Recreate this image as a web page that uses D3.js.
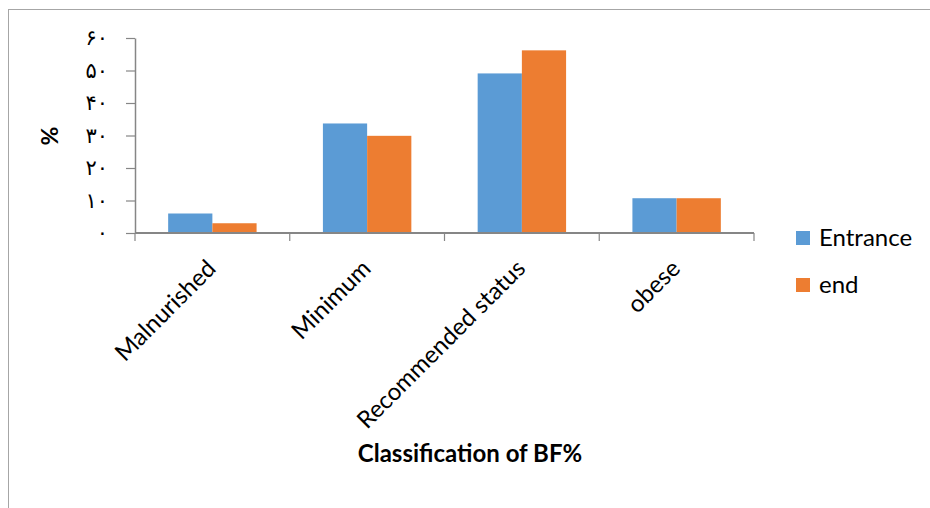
<!DOCTYPE html>
<html>
<head>
<meta charset="utf-8">
<script src="https://cdn.jsdelivr.net/npm/d3@7"></script>
<style>
  body { margin: 0; background: #fff; }
  svg { display: block; }
</style>
</head>
<body>
<div id="chart"></div>
<script>
// data
const categories = ['Malnurished', 'Minimum', 'Recommended status', 'obese']
const series = ['Entrance', 'end']
const entranceValues = [6, 33.7, 49.1, 10.7]
const endValues = [3, 29.9, 56.2, 10.7]
const yTicks = [0, 10, 20, 30, 40, 50, 60]
const colors = ['#5b9bd5', '#ed7d31']

const width = 930
const height = 508
const margin = { top: 38, left: 135, right: 176, bottom: 275 }
const plotBottom = height - margin.bottom // 233
const plotRight = width - margin.right    // 754

const svg = d3.select('#chart')
  .append('svg')
    .attr('width', width)
    .attr('height', height)

// outer frame
svg.append('rect')
  .attr('x', 8.5)
  .attr('y', 9.5)
  .attr('width', 1000)
  .attr('height', 1000)
  .attr('fill', 'none')
  .attr('stroke', '#a6a6a6')
  .attr('stroke-width', 1)

const persian = d => String(d).replace(/\d/g, c => '۰۱۲۳۴۵۶۷۸۹'[c])

const xScale = d3.scaleBand()
  .domain(categories)
  .range([margin.left, plotRight])
  .padding(0)

const xInner = d3.scaleBand()
  .domain(series)
  .range([0, xScale.bandwidth()])
  .paddingInner(0)
  .paddingOuter(0.75)

const yScale = d3.scaleLinear()
  .domain([0, 60])
  .range([plotBottom, margin.top])

// bars
const rows = categories.map((c, i) => ({ cat: c, vals: [entranceValues[i], endValues[i]] }))

const groups = svg.append('g')
  .selectAll('g')
  .data(rows)
  .enter()
  .append('g')
    .attr('transform', d => `translate(${xScale(d.cat)},0)`)

groups.selectAll('rect')
  .data(d => d.vals.map((v, j) => ({ s: series[j], v: v, j: j })))
  .enter()
  .append('rect')
    .attr('x', d => xInner(d.s))
    .attr('y', d => yScale(d.v))
    .attr('width', xInner.bandwidth())
    .attr('height', d => plotBottom - yScale(d.v))
    .attr('fill', d => colors[d.j])

// y axis
const yAxis = svg.append('g')
  .attr('transform', `translate(${margin.left},0)`)
  .call(d3.axisLeft(yScale).tickValues(yTicks).tickSize(9).tickSizeOuter(0).tickPadding(18).tickFormat(persian))

yAxis.select('.domain').attr('stroke', '#868686').attr('stroke-width', 1.5)
yAxis.selectAll('.tick line').attr('stroke', '#868686').attr('stroke-width', 1.2)
yAxis.selectAll('.tick text')
  .attr('font-family', 'DejaVu Sans')
  .attr('font-size', 21)
  .attr('letter-spacing', 3)
  .attr('fill', '#000')

// x axis: ticks on category boundaries
const xAxisG = svg.append('g')
svg.append('line')
  .attr('x1', margin.left)
  .attr('x2', plotRight)
  .attr('y1', plotBottom)
  .attr('y2', plotBottom)
  .attr('stroke', '#868686')
  .attr('stroke-width', 2)

const boundaries = categories.map(c => xScale(c)).concat([plotRight])
xAxisG.selectAll('line')
  .data(boundaries)
  .enter()
  .append('line')
    .attr('x1', d => d)
    .attr('x2', d => d)
    .attr('y1', plotBottom)
    .attr('y2', plotBottom + 8)
    .attr('stroke', '#868686')
    .attr('stroke-width', 1.2)

xAxisG.selectAll('text')
  .data(categories)
  .enter()
  .append('text')
    .attr('transform', d => `translate(${xScale(d) + xScale.bandwidth() / 2 + 5},270) rotate(-45)`)
    .attr('text-anchor', 'end')
    .attr('font-family', 'Lato, sans-serif')
    .attr('font-size', 24)
    .attr('fill', '#000')
    .text(d => d)

// axis titles
svg.append('text')
  .attr('transform', 'translate(58,136) rotate(-90)')
  .attr('text-anchor', 'middle')
  .attr('font-family', 'Lato, sans-serif')
  .attr('font-weight', 'bold')
  .attr('font-size', 23)
  .text('%')

svg.append('text')
  .attr('x', 470)
  .attr('y', 462)
  .attr('text-anchor', 'middle')
  .attr('font-family', 'Lato, sans-serif')
  .attr('font-weight', 'bold')
  .attr('font-size', 24)
  .text('Classification of BF%')

// legend
const legend = svg.append('g')
  .selectAll('g')
  .data(series)
  .enter()
  .append('g')
    .attr('transform', (d, i) => `translate(796,${231 + i * 47})`)

legend.append('rect')
  .attr('width', 14)
  .attr('height', 14)
  .attr('fill', (d, i) => colors[i])

legend.append('text')
  .attr('x', 23)
  .attr('y', 15)
  .attr('font-family', 'Lato, sans-serif')
  .attr('font-size', 24)
  .text(d => d)
</script>
</body>
</html>
